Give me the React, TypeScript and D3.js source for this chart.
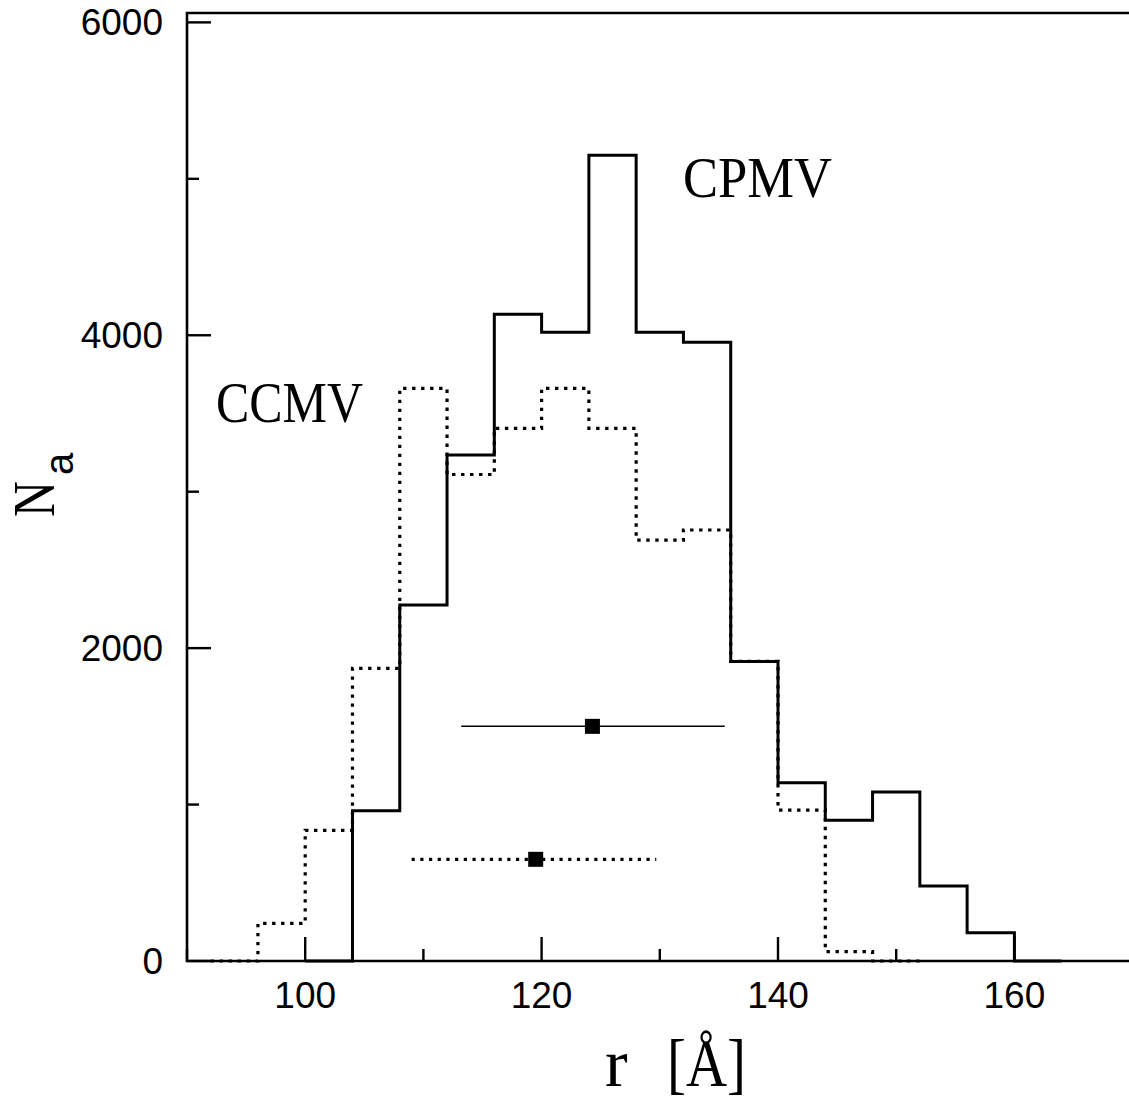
import React from "react";
import * as d3 from "d3";

// ---- data ----
const binWidth = 4;
const cpmvStart = 100;
const cpmvCounts = [0, 960, 2275, 3235, 4135, 4020, 5150, 4020, 3955, 1915, 1140, 900, 1080, 480, 180, 0];
const ccmvStart = 92;
const ccmvCounts = [0, 240, 835, 1870, 3660, 3110, 3405, 3660, 3405, 2690, 2755, 1915, 965, 60, 0];

const cpmvMean = { x: 124.3, lo: 113.2, hi: 135.5, y: 1500 };
const ccmvMean = { x: 119.5, lo: 109.0, hi: 129.7, y: 650 };

const xMajorTicks = [100, 120, 140, 160];
const xMinorTicks = [90, 110, 130, 150, 170];
const yMajorTicks = [0, 2000, 4000, 6000];
const yMinorTicks = [1000, 3000, 5000];

const W = 1129;
const H = 1103;
const xDomain = [90, 170];
const yDomain = [0, 6060];

export default function App() {
  const x = d3.scaleLinear().domain(xDomain).range([187, 187 + 80 * 11.82]);
  const y = d3.scaleLinear().domain(yDomain).range([961, 13]);

  const stepPts = (start: number, counts: number[]) => {
    const pts: [number, number][] = counts.map((c, i) => [start + i * binWidth, c]);
    pts.push([start + counts.length * binWidth, counts[counts.length - 1]]);
    return pts;
  };
  const line = d3
    .line<[number, number]>()
    .x((d) => x(d[0]))
    .y((d) => y(d[1]))
    .curve(d3.curveStepAfter);

  const solidPath = line(stepPts(cpmvStart, cpmvCounts)) || "";
  const dottedPath = line(stepPts(ccmvStart, ccmvCounts)) || "";

  const x0 = x(xDomain[0]);
  const x1 = x(xDomain[1]);
  const y0 = y(yDomain[0]);
  const y1 = y(yDomain[1]);
  const sq = 15;

  return (
    <svg
      width={W}
      height={H}
      viewBox={`0 0 ${W} ${H}`}
      style={{ position: "absolute", left: 0, top: 0, background: "#fff" }}
    >
      <rect x={0} y={0} width={W} height={H} fill="#fff" />
      {/* frame */}
      <path
        d={`M${x0},${y0}V${y1}H${x1}V${y0}Z`}
        fill="none"
        stroke="#000"
        strokeWidth={2.6}
      />
      {/* ticks */}
      {xMajorTicks.map((t) => (
        <line key={"xM" + t} x1={x(t)} x2={x(t)} y1={y0} y2={y0 - 24} stroke="#000" strokeWidth={2.4} />
      ))}
      {xMinorTicks.map((t) => (
        <line key={"xm" + t} x1={x(t)} x2={x(t)} y1={y0} y2={y0 - 12} stroke="#000" strokeWidth={2.4} />
      ))}
      {yMajorTicks.map((t) => (
        <line key={"yM" + t} x1={x0} x2={x0 + 24} y1={y(t)} y2={y(t)} stroke="#000" strokeWidth={2.4} />
      ))}
      {yMinorTicks.map((t) => (
        <line key={"ym" + t} x1={x0} x2={x0 + 12} y1={y(t)} y2={y(t)} stroke="#000" strokeWidth={2.4} />
      ))}
      {/* tick labels */}
      {xMajorTicks.map((t) => (
        <text
          key={"xl" + t}
          x={x(t)}
          y={1008}
          textAnchor="middle"
          fontFamily="'Liberation Sans', Arial, sans-serif"
          fontSize={37}
          fill="#000"
        >
          {t}
        </text>
      ))}
      {yMajorTicks.map((t) => (
        <text
          key={"yl" + t}
          x={163}
          y={y(t) + 13}
          textAnchor="end"
          fontFamily="'Liberation Sans', Arial, sans-serif"
          fontSize={37}
          fill="#000"
        >
          {t}
        </text>
      ))}
      {/* histograms */}
      <path d={dottedPath} fill="none" stroke="#000" strokeWidth={3.2} strokeDasharray="3.4 5.6" />
      <path d={solidPath} fill="none" stroke="#000" strokeWidth={3} strokeLinejoin="miter" />
      {/* mean markers */}
      <line
        x1={x(cpmvMean.lo)}
        x2={x(cpmvMean.hi)}
        y1={y(cpmvMean.y)}
        y2={y(cpmvMean.y)}
        stroke="#000"
        strokeWidth={1.5}
      />
      <rect x={x(cpmvMean.x) - sq / 2} y={y(cpmvMean.y) - sq / 2} width={sq} height={sq} fill="#000" />
      <line
        x1={x(ccmvMean.lo)}
        x2={x(ccmvMean.hi)}
        y1={y(ccmvMean.y)}
        y2={y(ccmvMean.y)}
        stroke="#000"
        strokeWidth={3.2}
        strokeDasharray="3.2 5.5"
      />
      <rect x={x(ccmvMean.x) - sq / 2} y={y(ccmvMean.y) - sq / 2} width={sq} height={sq} fill="#000" />
      {/* annotations */}
      <text
        x={683}
        y={197}
        fontFamily="'Liberation Serif', 'Times New Roman', serif"
        fontSize={58}
        textLength={149}
        lengthAdjust="spacingAndGlyphs"
        fill="#000"
      >
        CPMV
      </text>
      <text
        x={216}
        y={422}
        fontFamily="'Liberation Serif', 'Times New Roman', serif"
        fontSize={58}
        textLength={147}
        lengthAdjust="spacingAndGlyphs"
        fill="#000"
      >
        CCMV
      </text>
      {/* axis titles */}
      <text
        x={605}
        y={1086}
        fontFamily="'Liberation Serif', 'Times New Roman', serif"
        fontSize={68}
        fill="#000"
      >
        r
      </text>
      <text
        x={667}
        y={1086}
        fontFamily="'Liberation Serif', 'Times New Roman', serif"
        fontSize={68}
        textLength={79}
        lengthAdjust="spacingAndGlyphs"
        fill="#000"
      >
        [Å]
      </text>
      <g transform="translate(54,517) rotate(-90)">
        <text
          x={0}
          y={0}
          fontFamily="'Liberation Serif', 'Times New Roman', serif"
          fontSize={60}
          textLength={36}
          lengthAdjust="spacingAndGlyphs"
          fill="#000"
        >
          N
        </text>
        <text
          x={42}
          y={19}
          fontFamily="'Liberation Sans', Arial, sans-serif"
          fontSize={40}
          fill="#000"
        >
          a
        </text>
      </g>
    </svg>
  );
}
